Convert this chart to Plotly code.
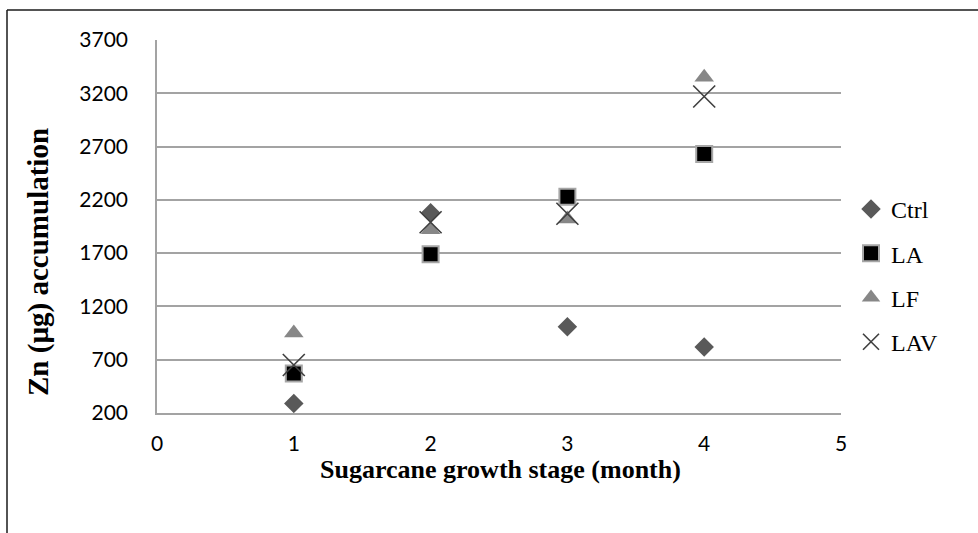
import plotly.graph_objects as go

# Growth stage (months) and Zn accumulation (µg) per treatment
months = [1, 2, 3, 4]
ctrl = [290, 2080, 1010, 820]
la = [570, 1690, 2230, 2630]
lf = [950, 1920, 2020, 3350]
lav = [650, 1990, 2070, 3170]

x_ticks = [0, 1, 2, 3, 4, 5]
y_ticks = [200, 700, 1200, 1700, 2200, 2700, 3200, 3700]

W, H = 978, 533
L, R, T, B = 157, 137, 40, 120
pw, ph = W - L - R, H - T - B

def px_x(p):
    return (p - L) / pw

def px_y(p):
    return (H - B - p) / ph

serif = "Liberation Serif, Times New Roman, serif"
sans = "Lato, Calibri, sans-serif"
grid = "#a3a3a3"

fig = go.Figure()

fig.add_trace(go.Scatter(
    x=months, y=ctrl, mode="markers", name="Ctrl", legendgroup="a",
    marker=dict(symbol="diamond", size=15, color="#595959",
                line=dict(width=0))))
fig.add_trace(go.Scatter(
    x=months, y=la, mode="markers", name="LA", legendgroup="b",
    marker=dict(symbol="square", size=16, color="#000000",
                line=dict(width=2, color="#a6a6a6"))))
fig.add_trace(go.Scatter(
    x=months, y=lf, mode="markers", name="LF", legendgroup="c",
    marker=dict(symbol="triangle-up", size=17, color="#878787",
                line=dict(width=0))))
fig.add_trace(go.Scatter(
    x=months, y=lav, mode="markers", name="LAV", legendgroup="d",
    marker=dict(symbol="x-thin-open", size=22, color="#3f3f3f",
                line=dict(width=1.6, color="#3f3f3f"))))

fig.update_layout(
    width=W, height=H,
    margin=dict(l=L, r=R, t=T, b=B),
    paper_bgcolor="white", plot_bgcolor="white",
    showlegend=True,
    legend=dict(
        x=px_x(851), y=px_y(187), xanchor="left", yanchor="top",
        font=dict(family=serif, size=24, color="#000000"),
        tracegroupgap=10, itemwidth=30,
        bgcolor="rgba(0,0,0,0)",
    ),
    xaxis=dict(
        range=[0, 5], tickvals=x_ticks, ticktext=[str(v) for v in x_ticks],
        showgrid=False, zeroline=False,
        showline=True, linecolor=grid, linewidth=1.5,
        ticks="", ticklabelstandoff=11,
        tickfont=dict(family=sans, size=21, color="#000000"),
    ),
    yaxis=dict(
        range=[200, 3700], tickvals=y_ticks, ticktext=[str(v) for v in y_ticks],
        showgrid=True, gridcolor=grid, gridwidth=1.5, zeroline=False,
        showline=True, linecolor=grid, linewidth=1.5,
        ticks="", ticklabelstandoff=23,
        tickfont=dict(family=sans, size=21, color="#000000"),
    ),
)

# Axis titles
fig.add_annotation(
    text="<b>Sugarcane growth stage (month)</b>", xref="paper", yref="paper",
    x=px_x(500), y=px_y(470), xanchor="center", yanchor="middle",
    showarrow=False, font=dict(family=serif, size=26, color="#000000"))
fig.add_annotation(
    text="<b>Zn (µg) accumulation</b>", xref="paper", yref="paper",
    x=px_x(38), y=px_y(262), xanchor="center", yanchor="middle",
    textangle=-90, showarrow=False,
    font=dict(family=serif, size=29, color="#000000"))

# Outer frame: top and left edges
frame = dict(color="#1a1a1a", width=1.5)
fig.add_shape(type="line", xref="paper", yref="paper",
              x0=px_x(7), y0=px_y(10), x1=px_x(W + 5), y1=px_y(10), line=frame)
fig.add_shape(type="line", xref="paper", yref="paper",
              x0=px_x(7), y0=px_y(10), x1=px_x(7), y1=px_y(H + 5), line=frame)

fig.write_html("out.html")
